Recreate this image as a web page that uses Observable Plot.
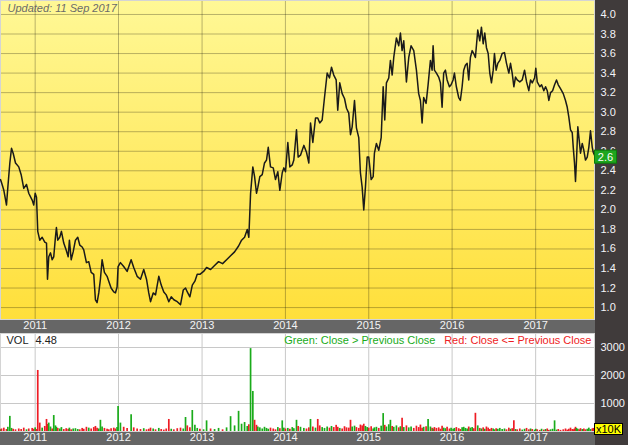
<!DOCTYPE html>
<html><head><meta charset="utf-8">
<script src="https://cdn.jsdelivr.net/npm/d3@7"></script>
<script src="https://cdn.jsdelivr.net/npm/@observablehq/plot@0.6"></script>
<style>
html,body{margin:0;padding:0;background:#fff;}
#chart{position:relative;width:628px;height:445px;background:#403b3b;overflow:hidden;font-family:"Liberation Sans",Arial,sans-serif;font-size:11px;}
.bar{position:absolute;left:0;width:595px;background:#666;}
#price,#vol{position:absolute;left:0;}
#price{top:0px}
#vol{top:333px}
#unit{position:absolute;left:594px;top:423px;width:27px;height:10px;line-height:10px;border:1px solid #000;background:#ffff00;color:#000;font-size:11px;text-align:center;}
</style>
</head><body>
<div id="chart">
  <div class="bar" style="top:319px;height:14px"></div>
  <div class="bar" style="top:431px;height:14px"></div>
  <div id="price"></div>
  <div id="vol"></div>
  <div id="unit">x10K</div>
</div>
<script>
// decimal-year dates of sampled sessions
const dates = [
2010.584,2010.596,2010.624,2010.656,2010.672,2010.696,2010.716,2010.736,2010.764,2010.803,
2010.832,2010.863,2010.896,2010.923,2010.964,2010.983,2011.000,2011.016,2011.031,2011.055,
2011.084,2011.115,2011.136,2011.148,2011.163,2011.184,2011.204,2011.223,2011.243,2011.255,
2011.271,2011.295,2011.315,2011.343,2011.372,2011.396,2011.411,2011.432,2011.456,2011.483,
2011.511,2011.535,2011.564,2011.583,2011.615,2011.643,2011.672,2011.703,2011.723,2011.743,
2011.763,2011.783,2011.803,2011.831,2011.863,2011.883,2011.911,2011.943,2011.963,2011.983,
2011.995,2012.023,2012.062,2012.103,2012.151,2012.182,2012.223,2012.263,2012.302,2012.335,
2012.362,2012.383,2012.415,2012.443,2012.482,2012.511,2012.542,2012.571,2012.602,2012.631,
2012.662,2012.703,2012.742,2012.775,2012.802,2012.823,2012.854,2012.883,2012.914,2012.942,
2012.974,2013.018,2013.054,2013.102,2013.150,2013.198,2013.246,2013.294,2013.342,2013.390,
2013.438,2013.474,2013.510,2013.542,2013.561,2013.582,2013.609,2013.630,2013.653,2013.669,
2013.693,2013.722,2013.749,2013.773,2013.794,2013.821,2013.854,2013.881,2013.909,2013.933,
2013.962,2013.981,2014.001,2014.029,2014.053,2014.082,2014.101,2014.133,2014.153,2014.181,
2014.221,2014.253,2014.281,2014.301,2014.329,2014.361,2014.388,2014.412,2014.441,2014.469,
2014.501,2014.529,2014.553,2014.580,2014.609,2014.628,2014.652,2014.681,2014.709,2014.733,
2014.760,2014.781,2014.801,2014.829,2014.852,2014.880,2014.900,2014.921,2014.940,2014.960,
2014.981,2015.000,2015.029,2015.053,2015.068,2015.092,2015.120,2015.149,2015.173,2015.192,
2015.212,2015.240,2015.260,2015.281,2015.300,2015.332,2015.360,2015.380,2015.400,2015.420,
2015.452,2015.480,2015.508,2015.540,2015.572,2015.599,2015.620,2015.640,2015.659,2015.688,
2015.712,2015.740,2015.760,2015.772,2015.788,2015.812,2015.839,2015.860,2015.880,2015.899,
2015.920,2015.940,2015.968,2015.988,2016.012,2016.028,2016.051,2016.079,2016.099,2016.120,
2016.139,2016.159,2016.180,2016.199,2016.219,2016.240,2016.259,2016.279,2016.307,2016.331,
2016.351,2016.372,2016.391,2016.411,2016.432,2016.451,2016.471,2016.492,2016.507,2016.527,
2016.547,2016.571,2016.599,2016.627,2016.651,2016.679,2016.699,2016.719,2016.739,2016.759,
2016.779,2016.810,2016.839,2016.867,2016.891,2016.918,2016.939,2016.959,2016.987,2017.002,
2017.019,2017.050,2017.071,2017.098,2017.119,2017.139,2017.158,2017.179,2017.203,2017.227,
2017.250,2017.271,2017.298,2017.331,2017.358,2017.379,2017.398,2017.418,2017.439,2017.451,
2017.466,2017.478,2017.490,2017.506,2017.523,2017.538,2017.559,2017.578,2017.598,2017.619,
2017.638,2017.658,2017.679,2017.691,2017.706
];
// closing prices
const close = [
2.31,2.28,2.20,2.05,2.23,2.48,2.63,2.58,2.48,2.44,
2.36,2.22,2.26,2.17,2.10,2.05,2.17,2.13,1.78,1.69,
1.72,1.67,1.66,1.29,1.52,1.56,1.49,1.52,1.72,1.82,
1.69,1.72,1.78,1.66,1.59,1.52,1.69,1.49,1.57,1.69,
1.72,1.64,1.62,1.59,1.46,1.47,1.36,1.34,1.08,1.05,
1.15,1.29,1.49,1.36,1.32,1.27,1.20,1.16,1.15,1.21,
1.42,1.46,1.42,1.37,1.49,1.41,1.32,1.29,1.39,1.29,
1.15,1.06,1.15,1.13,1.32,1.23,1.16,1.13,1.06,1.11,
1.08,1.06,1.03,1.18,1.20,1.16,1.11,1.23,1.27,1.34,
1.34,1.37,1.41,1.39,1.43,1.47,1.45,1.49,1.53,1.57,
1.63,1.69,1.72,1.80,1.72,2.17,2.44,2.34,2.17,2.23,
2.34,2.36,2.48,2.51,2.64,2.44,2.43,2.31,2.39,2.20,
2.38,2.43,2.39,2.69,2.44,2.46,2.51,2.82,2.54,2.56,
2.66,2.59,2.48,2.89,2.69,2.94,2.94,2.89,2.92,3.15,
3.40,3.35,3.46,3.38,3.33,3.02,3.30,3.19,3.14,3.04,
2.99,2.77,2.85,3.12,2.84,2.74,2.38,2.23,2.00,2.23,
2.54,2.54,2.31,2.34,2.58,2.68,2.61,2.74,3.26,2.92,
3.30,3.35,3.53,3.38,3.56,3.76,3.68,3.81,3.63,3.73,
3.31,3.56,3.68,3.63,3.43,3.19,3.12,2.89,3.15,3.09,
3.28,3.53,3.43,3.68,3.43,3.40,3.36,3.30,3.05,3.40,
3.43,3.33,3.26,3.28,3.33,3.40,3.26,3.15,3.12,3.26,
3.43,3.48,3.50,3.33,3.56,3.63,3.60,3.56,3.84,3.73,
3.87,3.70,3.81,3.66,3.60,3.40,3.30,3.43,3.60,3.43,
3.50,3.53,3.60,3.61,3.50,3.40,3.50,3.40,3.26,3.36,
3.33,3.31,3.33,3.43,3.31,3.22,3.33,3.30,3.35,3.45,
3.31,3.26,3.28,3.22,3.26,3.22,3.12,3.20,3.22,3.28,
3.33,3.28,3.24,3.19,3.12,3.05,2.95,2.82,2.79,2.64,
2.48,2.29,2.51,2.85,2.71,2.58,2.68,2.61,2.51,2.54,
2.64,2.81,2.64,2.59,2.56
];
// volume, in units of 10K shares
const volume = [
60,90,120,70,150,540,110,80,60,90,
70,120,60,90,110,80,130,70,2180,300,
120,180,430,250,300,160,90,570,200,150,
110,90,140,70,100,80,120,60,90,100,
70,60,110,80,150,120,90,140,180,120,
90,400,160,110,80,60,100,120,90,140,
890,300,150,110,600,130,90,70,100,60,
80,120,90,60,110,70,50,90,430,80,
60,100,120,90,500,200,130,750,220,110,
80,60,380,90,70,110,60,130,530,200,
720,260,320,180,240,2960,1430,400,220,160,
130,90,150,110,80,120,90,60,140,100,
380,120,90,110,80,140,100,400,180,150,
110,90,130,430,160,120,430,200,140,110,
160,120,180,140,220,150,110,90,170,130,
120,400,160,190,140,110,230,200,260,180,
140,120,170,90,130,150,110,190,640,220,
160,240,400,180,150,200,130,170,470,140,
200,130,160,110,190,140,230,120,150,170,
430,160,120,90,140,110,130,80,190,120,
100,150,90,120,80,110,140,100,70,130,
150,110,90,160,120,140,100,650,200,110,
90,130,80,160,120,70,110,90,60,100,
80,110,70,90,60,120,80,100,380,70,
60,90,50,80,110,60,90,70,50,80,
60,40,80,50,70,90,40,60,80,380,
50,70,40,60,90,50,80,120,70,60,
90,150,110,80,60,100,70,90,60,80,
120,70,90,110,80
];
const priceTicks = [1.0,1.2,1.4,1.6,1.8,2.0,2.2,2.4,2.6,2.8,3.0,3.2,3.4,3.6,3.8,4.0];
const volTicks = [1000,2000,3000];
const updatedText = "Updated: 11 Sep 2017";
const volLabel = "VOL";
const volValue = "4.48";
const greenNote = "Green: Close > Previous Close";
const redNote = "Red: Close <= Previous Close";

const toDate = t => { const y = Math.floor(t); const s = Date.UTC(y,0,1), e = Date.UTC(y+1,0,1); return new Date(s + (t - y) * (e - s)); };
const rows = dates.map((t, i) => ({
  date: toDate(t), close: close[i], vol: volume[i],
  col: (i === 0 || close[i] > close[i-1]) ? "#1aab1a" : "#ee1c24"
}));
const xDomain = d3.extent(rows, d => d.date);
const yearTicks = d3.utcYear.range(d3.utcYear.ceil(xDomain[0]), xDomain[1]);
const yearFmt = d => String(d.getUTCFullYear());
const font = {fontFamily: "'Liberation Sans', Arial, sans-serif", fontSize: "11px", background: "transparent", overflow: "visible"};

const gradMark = () => {
  const defs = d3.create("svg:defs");
  const g = defs.append("linearGradient").attr("id", "bgGrad").attr("x1", 0).attr("y1", 0).attr("x2", 0).attr("y2", 1);
  g.append("stop").attr("offset", "0%").attr("stop-color", "#fff896");
  g.append("stop").attr("offset", "100%").attr("stop-color", "#ffdf3a");
  return defs.node();
};
const lastBox = (index, scales) => {
  const last = rows[rows.length - 1];
  const x = scales.x(last.date), y = scales.y(last.close);
  const g = d3.create("svg:g");
  g.append("rect").attr("x", x + 0.5).attr("y", y - 4.5).attr("width", 22).attr("height", 13)
    .attr("fill", "#1ea61e").attr("stroke", "#0c7a0c");
  g.append("text").attr("x", x + 11.5).attr("y", y + 6.5).attr("text-anchor", "middle")
    .attr("fill", "#fff").attr("font-size", 11).text(d3.format(".1f")(last.close));
  return g.node();
};

const price = Plot.plot({
  width: 628, height: 333,
  marginLeft: 0, marginRight: 34, marginTop: 0, marginBottom: 14,
  style: font,
  x: {type: "utc", domain: xDomain},
  y: {domain: [0.878, 4.143]},
  marks: [
    gradMark,
    Plot.frame({fill: "url(#bgGrad)"}),
    Plot.gridY(priceTicks, {stroke: "#000", strokeOpacity: 0.28}),
    Plot.gridX(yearTicks, {stroke: "#000", strokeOpacity: 0.28}),
    Plot.frame({stroke: "#d4d4d4"}),
    Plot.line(rows, {x: "date", y: "close", stroke: "#1a1a1a", strokeWidth: 1.5}),
    Plot.axisY(priceTicks, {anchor: "right", tickSize: 0, tickPadding: 6, tickFormat: d3.format(".1f"), color: "#f4f4f8", fontSize: 11, label: null}),
    Plot.axisX(yearTicks, {anchor: "bottom", tickSize: 0, tickPadding: 2, tickFormat: yearFmt, color: "#f4f4f4", fontSize: 11, label: null}),
    Plot.text([updatedText], {frameAnchor: "top-left", dx: 7, dy: 4, lineAnchor: "top", textAnchor: "start", fill: "#6a6a6a", fontStyle: "italic", fontSize: 11}),
    lastBox
  ]
});
document.getElementById("price").append(price);

const vol = Plot.plot({
  width: 628, height: 112,
  marginLeft: 0, marginRight: 34, marginTop: 0, marginBottom: 14,
  style: font,
  color: {type: "identity"},
  x: {type: "utc", domain: xDomain},
  y: {domain: [0, 3500]},
  marks: [
    Plot.frame({fill: "#fff"}),
    Plot.gridY(volTicks, {stroke: "#c8c8c8", strokeOpacity: 1}),
    Plot.gridX(yearTicks, {stroke: "#c8c8c8", strokeOpacity: 1}),
    Plot.frame({stroke: "#d4d4d4"}),
    Plot.ruleX(rows, {x: "date", y1: 0, y2: "vol", stroke: "col", strokeWidth: 1.7}),
    Plot.axisY(volTicks, {anchor: "right", tickSize: 0, tickPadding: 6, tickFormat: d => String(d), color: "#f4f4f8", fontSize: 11, label: null}),
    Plot.axisX(yearTicks, {anchor: "bottom", tickSize: 0, tickPadding: 2, tickFormat: yearFmt, color: "#f4f4f4", fontSize: 11, label: null}),
    Plot.text([volLabel], {frameAnchor: "top-left", dx: 6, dy: 3, lineAnchor: "top", textAnchor: "start", fill: "#222", fontSize: 11}),
    Plot.text([volValue], {frameAnchor: "top-left", dx: 35, dy: 3, lineAnchor: "top", textAnchor: "start", fill: "#222", fontSize: 11}),
    Plot.text([greenNote], {frameAnchor: "top-right", dx: -159, dy: 3, lineAnchor: "top", textAnchor: "end", fill: "#1aab1a", fontSize: 11}),
    Plot.text([redNote], {frameAnchor: "top-right", dx: -3, dy: 3, lineAnchor: "top", textAnchor: "end", fill: "#ee1c24", fontSize: 11})
  ]
});
document.getElementById("vol").append(vol);
</script>
</body></html>
